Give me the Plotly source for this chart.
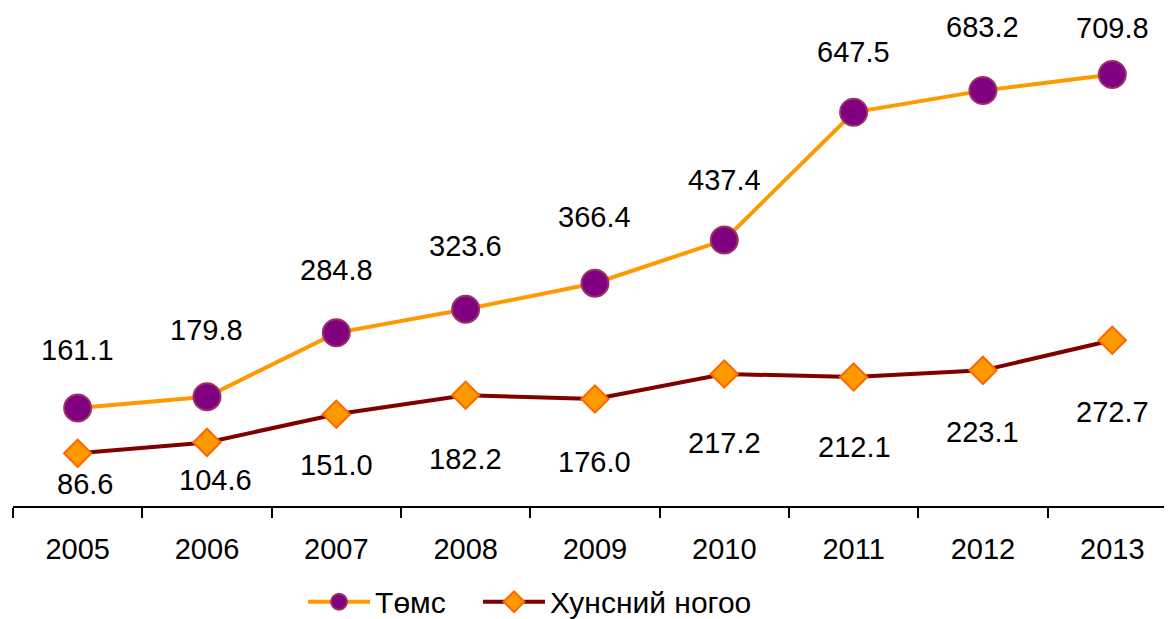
import plotly.graph_objects as go

years = ["2005", "2006", "2007", "2008", "2009", "2010", "2011", "2012", "2013"]
tomato = [161.1, 179.8, 284.8, 323.6, 366.4, 437.4, 647.5, 683.2, 709.8]
veg = [86.6, 104.6, 151.0, 182.2, 176.0, 217.2, 212.1, 223.1, 272.7]
name_tomato = "Төмс"
name_veg = "Хунсний ногоо"

# label offsets (pixels) — styles
tomato_yshift = [58, 67, 63, 63, 66, 60, 60, 64, 46]
veg_yshift = [-31, -38, -51, -64, -63, -69, -70, -62, -72]
veg_xshift = [7, 9, 0, 0, 0, 0, 1, 0, 0]

FONT = "Liberation Sans, Arial, sans-serif"
LBL = 29

fig = go.Figure()
fig.add_trace(go.Scatter(
    x=years, y=tomato, name=name_tomato, mode="lines+markers",
    line=dict(color="#FF9900", width=4),
    marker=dict(symbol="circle", size=27, color="#800080",
                line=dict(color="#993366", width=2)),
    cliponaxis=False, legend="legend",
))
fig.add_trace(go.Scatter(
    x=years, y=veg, name=name_veg, mode="lines+markers",
    line=dict(color="#800000", width=4),
    marker=dict(symbol="diamond", size=21, color="#FF9900",
                line=dict(color="#FF6600", width=2)),
    cliponaxis=False, legend="legend2",
))

annotations = []
for i, v in enumerate(tomato):
    annotations.append(dict(x=i, y=v, xref="x", yref="y", text=f"{v:.1f}",
                            showarrow=False, yshift=tomato_yshift[i],
                            font=dict(size=LBL, color="black", family=FONT)))
for i, v in enumerate(veg):
    annotations.append(dict(x=i, y=v, xref="x", yref="y", text=f"{v:.1f}",
                            showarrow=False, yshift=veg_yshift[i], xshift=veg_xshift[i],
                            font=dict(size=LBL, color="black", family=FONT)))

leg_common = dict(orientation="h", xanchor="left", y=-0.21, yanchor="middle",
                  font=dict(size=30, family=FONT, color="black"), itemwidth=62,
                  bgcolor="rgba(0,0,0,0)")

fig.update_layout(
    width=1164, height=611,
    margin=dict(l=5, r=8, t=42, b=113, autoexpand=False),
    paper_bgcolor="white", plot_bgcolor="white",
    font=dict(family=FONT, size=LBL, color="black"),
    showlegend=True,
    legend=dict(x=0.252, **leg_common),
    legend2=dict(x=0.404, **leg_common),
    annotations=annotations,
    xaxis=dict(type="category", range=[-0.5, 8.4], showgrid=False, zeroline=False,
               showline=True, linecolor="black", linewidth=2,
               ticks="outside", tickson="boundaries", ticklen=10, tickwidth=2,
               tickcolor="black", ticklabelstandoff=16,
               tickfont=dict(size=LBL, family=FONT, color="black")),
    yaxis=dict(range=[0, 750], visible=False, showgrid=False, zeroline=False),
)

fig.write_html("out.html")
